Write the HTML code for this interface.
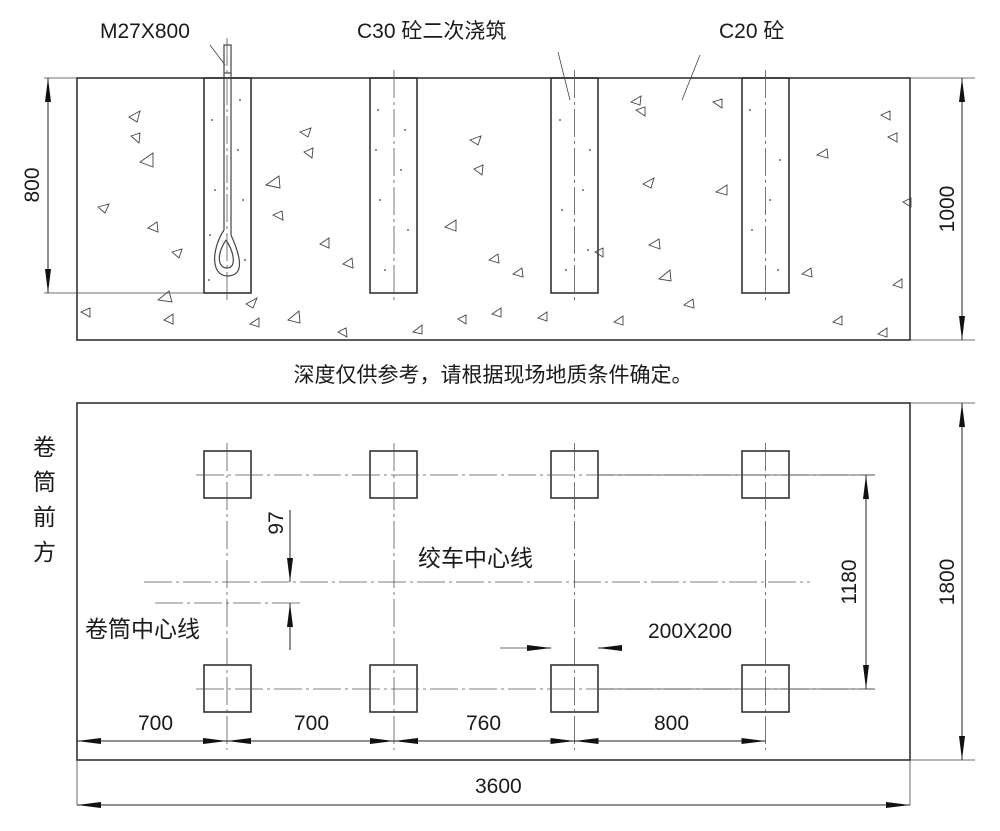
<!DOCTYPE html>
<html><head><meta charset="utf-8"><style>
html,body{margin:0;padding:0;background:#fff;}
svg{display:block;}
text{font-family:"Liberation Sans","Noto Sans CJK SC",sans-serif;fill:#1a1a1a;}
</style></head><body>
<svg width="1000" height="831" viewBox="0 0 1000 831" xmlns="http://www.w3.org/2000/svg">
<defs>
<marker id="b" viewBox="0 0 24 6" refX="24" refY="3" markerWidth="24" markerHeight="6" orient="auto-start-reverse" markerUnits="userSpaceOnUse"><path d="M0,0L24,3L0,6z" fill="#111"/></marker>
</defs>
<g stroke="#333" fill="none" stroke-width="1.6">
<rect x="77" y="78" width="833" height="262"/>
<rect x="204" y="78" width="47" height="215"/>
<rect x="370" y="78" width="47" height="215"/>
<rect x="551" y="78" width="47" height="215"/>
<rect x="742" y="78" width="47" height="215"/>
<rect x="77" y="403" width="833" height="357"/>
<rect x="204" y="451" width="47" height="47"/><rect x="370" y="451" width="47" height="47"/><rect x="551" y="451" width="47" height="47"/><rect x="742" y="451" width="47" height="47"/>
<rect x="204" y="665" width="47" height="47"/><rect x="370" y="665" width="47" height="47"/><rect x="551" y="665" width="47" height="47"/><rect x="742" y="665" width="47" height="47"/>
</g>
<g stroke="#444" fill="none" stroke-width="1.2">
<rect x="224" y="45" width="7" height="28" fill="#fff"/>
<path d="M224,73V230 M231,73V235"/>
<path d="M224,230 C212,248 210,275 227,276 C246,276 240,255 231,235"/>
<path d="M226,240 C216,255 218,268 227,268 C237,268 234,252 226,240"/>
</g>
<g stroke="#555" stroke-width="0.8" fill="none" stroke-dasharray="28,4,3,4">
<path d="M227,38V300 M394,70V300 M574.5,70V300 M765.5,70V300"/>
<path d="M227,443V750 M394,443V750 M574.5,443V750 M765.5,443V750"/>
<path d="M196,475H875 M196,689H875 M144,582H810 M155,603H300"/>
</g>
<g stroke="#444" stroke-width="0.8" fill="none">
<path d="M210,45L225,65 M558,52L570,100 M700,55L682,100"/>
<path d="M44,78H77 M44,293H204 M910,78H975 M910,340H975 M910,403H975 M910,760H975"/>
<path d="M77,760V805 M910,760V805"/>
<path d="M598,475H875 M598,689H875"/>
<path d="M500,648H551 M598,648H620"/>
</g>
<g stroke="#222" stroke-width="1" fill="none">
<path d="M48,78V293" marker-start="url(#b)" marker-end="url(#b)"/>
<path d="M962,78V340" marker-start="url(#b)" marker-end="url(#b)"/>
<path d="M962,403V760" marker-start="url(#b)" marker-end="url(#b)"/>
<path d="M866,475V689" marker-start="url(#b)" marker-end="url(#b)"/>
<path d="M290,510V582" marker-end="url(#b)"/>
<path d="M290,650V603" marker-end="url(#b)"/>
<path d="M77,741H227" marker-start="url(#b)" marker-end="url(#b)"/>
<path d="M227,741H394" marker-start="url(#b)" marker-end="url(#b)"/>
<path d="M394,741H574.5" marker-start="url(#b)" marker-end="url(#b)"/>
<path d="M574.5,741H765.5" marker-start="url(#b)" marker-end="url(#b)"/>
<path d="M77,805H910" marker-start="url(#b)" marker-end="url(#b)"/>
<path d="M527,648H551" marker-end="url(#b)"/>
<path d="M622,648H598" marker-end="url(#b)"/>
</g>
<g stroke="#444" stroke-width="0.9" fill="none">
<path d="M129,117l11,-6l-3,11z M131,136l9,-3l-1,10z M140,162l13,-9l0,14z M98,207l11,-3l-4,9z M148,228l9,-6l1,10z M172,252l10,-3l-3,9z M158,300l11,-9l3,11z M81,312l9,-4l0,9z M164,320l9,-6l0,10z M246,304l11,-6l-4,10z M250,324l9,-6l0,9z M288,320l11,-9l1,12z M300,132l11,-4l-3,9z M304,152l9,-4l-1,10z M266,185l13,-9l1,12z M273,215l9,-4l1,9z M320,244l9,-6l0,10z M343,264l9,-6l1,10z M338,332l8,-4l1,9z M470,140l11,-4l-3,9z M474,169l9,-4l-1,10z M445,227l11,-7l0,11z M489,260l9,-6l1,9z M492,314l9,-6l0,9z M413,332l9,-7l0,9z M631,102l10,-6l-1,9z M636,110l9,-3l0,9z M649,245l10,-6l1,10z M659,279l11,-9l1,11z M684,305l9,-6l1,9z M713,102l9,-3l0,9z M716,192l11,-7l0,10z M643,184l11,-6l-3,10z M817,155l10,-6l1,9z M881,115l9,-4l0,9z M888,137l9,-4l0,9z M903,202l8,-4l0,9z M802,274l9,-6l1,9z M893,285l9,-6l0,9z M833,322l9,-6l0,9z M878,334l9,-6l0,9z M538,318l9,-6l0,9z M614,322l9,-6l0,9z M513,274l9,-6l1,9z M595,252l8,-4l0,9z M458,319l8,-4l0,9z"/>
</g>
<g fill="#666">
<circle cx="212" cy="120" r="1"/><circle cx="240" cy="100" r="1"/><circle cx="215" cy="190" r="1"/><circle cx="243" cy="200" r="1"/><circle cx="209" cy="280" r="1"/><circle cx="245" cy="260" r="1"/><circle cx="238" cy="150" r="1"/><circle cx="210" cy="235" r="1"/>
<circle cx="378" cy="110" r="1"/><circle cx="405" cy="130" r="1"/><circle cx="380" cy="200" r="1"/><circle cx="408" cy="230" r="1"/><circle cx="385" cy="270" r="1"/><circle cx="401" cy="170" r="1"/><circle cx="376" cy="150" r="1"/>
<circle cx="560" cy="120" r="1"/><circle cx="590" cy="150" r="1"/><circle cx="562" cy="210" r="1"/><circle cx="588" cy="250" r="1"/><circle cx="566" cy="270" r="1"/><circle cx="583" cy="190" r="1"/>
<circle cx="750" cy="110" r="1"/><circle cx="780" cy="160" r="1"/><circle cx="752" cy="230" r="1"/><circle cx="778" cy="270" r="1"/><circle cx="770" cy="200" r="1"/>
</g>
<text x="100" y="38" font-size="21">M27X800</text>
<text x="357" y="38" font-size="21">C30 砼二次浇筑</text>
<text x="719" y="38" font-size="21">C20 砼</text>
<text x="493" y="382" font-size="21" text-anchor="middle">深度仅供参考，请根据现场地质条件确定。</text>
<text x="418" y="566" font-size="23">绞车中心线</text>
<text x="85" y="637" font-size="23">卷筒中心线</text>
<g font-size="23"><text x="33" y="455">卷</text><text x="33" y="490">筒</text><text x="33" y="525">前</text><text x="33" y="560">方</text></g>
<g font-size="21">
<text x="138" y="730">700</text><text x="294" y="730">700</text><text x="466" y="730">760</text><text x="654" y="730">800</text>
<text x="475" y="793">3600</text>
<text x="648" y="638">200X200</text>
<text transform="translate(39,185) rotate(-90)" text-anchor="middle">800</text>
<text transform="translate(954,209) rotate(-90)" text-anchor="middle">1000</text>
<text transform="translate(954,582) rotate(-90)" text-anchor="middle">1800</text>
<text transform="translate(856,582) rotate(-90)" text-anchor="middle">1180</text>
<text transform="translate(283,523) rotate(-90)" text-anchor="middle">97</text>
</g>
</svg>
</body></html>
